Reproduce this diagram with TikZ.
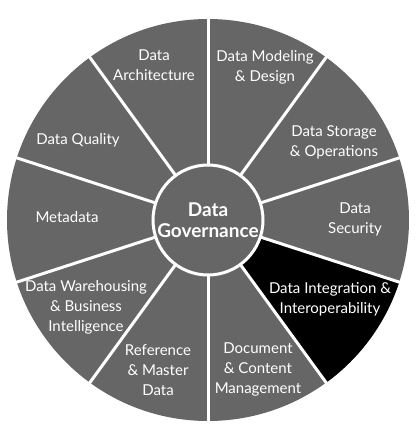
\documentclass[tikz,border=0pt]{standalone}
\usepackage{fontspec}
\setmainfont{Lato}
\definecolor{seg}{HTML}{666666}
\begin{document}
\begin{tikzpicture}[x=1pt,y=-1pt,
  lbl/.style={text=white, align=center, font=\fontsize{15}{20}\selectfont, inner sep=0pt},
  divider/.style={draw=white, line width=3pt}]
\useasboundingbox (0,0) rectangle (420,424);
\coordinate (c) at (208,220);
\fill[seg] (c) circle[radius=201];
\fill[black] (c) -- ++(18:201) arc[start angle=18, end angle=54, radius=201] -- cycle;
\foreach \a in {18,54,90,126,162,198,234,270,306,342}
  \draw[divider, shift={(c)}] (\a:50) -- (\a:203);
\node[circle, draw=white, line width=3pt, fill=seg, minimum size=110pt, inner sep=0pt,
  text=white, align=center, font=\fontsize{19}{21}\selectfont\bfseries] (gov) at (c) {Data\\Governance};
\node[lbl] (arch) at (154,65) {Data\\Architecture};
\node[lbl] (model) at (265,67) {Data Modeling\\\& Design};
\node[lbl] (store) at (334,142) {Data Storage\\\& Operations};
\node[lbl] (sec) at (355,219) {Data\\Security};
\node[lbl] (integ) at (330,299) {Data Integration \&\\Interoperability};
\node[lbl] (doc) at (258,369) {Document\\\& Content\\Management};
\node[lbl] (ref) at (158,370) {Reference\\\& Master\\Data};
\node[lbl] (dw) at (86,307) {Data Warehousing\\\& Business\\Intelligence};
\node[lbl] (meta) at (67,217) {Metadata};
\node[lbl] (qual) at (78,140) {Data Quality};
\end{tikzpicture}
\end{document}
